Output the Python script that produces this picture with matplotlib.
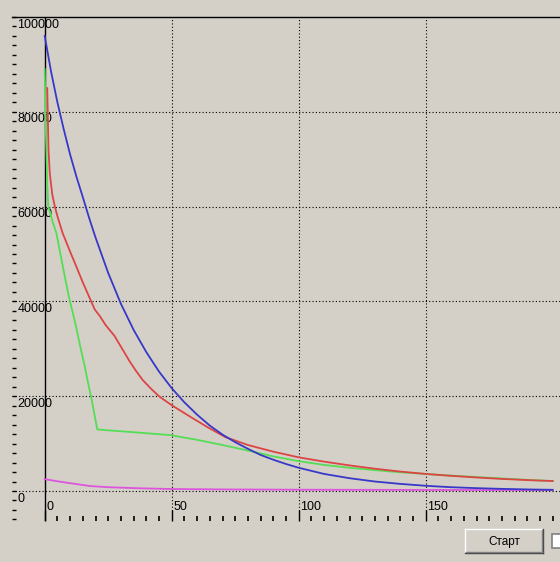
import matplotlib
matplotlib.use("Agg")
import matplotlib.pyplot as plt
import numpy as np
from matplotlib.patches import Rectangle
from matplotlib.lines import Line2D
from matplotlib.ticker import FixedLocator

# ---- data ----
blue_x = [0, 2.5, 5, 7.5, 10, 12.5, 15, 17.5, 20, 25, 30, 35, 40, 45, 50, 55, 60, 65, 70,
          75, 80, 85, 90, 95, 100, 110, 120, 130, 140, 150, 160, 170, 180, 190, 200]
blue_y = [96000, 88500, 82000, 76300, 71000, 66300, 62000, 57600, 53500, 46000, 39500,
          34000, 29300, 25200, 21700, 18700, 16100, 13800, 11900, 10300, 8900, 7600,
          6600, 5700, 4900, 3600, 2700, 2000, 1500, 1100, 800, 600, 450, 330, 250]

red_x = [1, 1.5, 2, 3, 4, 5, 7, 10, 12.5, 15, 18.3, 19.7, 21.7, 24, 27.5, 30.5, 33.5, 36,
         38.6, 42, 45.2, 50, 57.2, 64, 71, 80, 90, 100, 110, 120, 130, 140, 150, 160,
         170, 180, 190, 200]
red_y = [85000, 72000, 67000, 62500, 60000, 58000, 54500, 50500, 47300, 44000, 40000,
         38300, 36900, 35000, 32700, 30000, 27300, 25300, 23400, 21500, 19900, 18100,
         15700, 13500, 11400, 9700, 8300, 7100, 6200, 5400, 4700, 4100, 3600, 3200,
         2850, 2550, 2300, 2100]

green_x = [0, 0.5, 1, 1.4, 2, 3, 4.6, 6, 8, 9.5, 12, 14, 15.8, 17, 18.4, 20.7, 25, 30,
           37.5, 49.3, 60, 70, 82, 90, 100, 110, 120, 130, 140, 150, 160, 170, 180,
           190, 200]
green_y = [89000, 75000, 65000, 60000, 59000, 57000, 54400, 50500, 45000, 41000, 35500,
           30500, 26200, 23000, 19500, 13000, 12800, 12600, 12300, 11800, 10800, 9700,
           8300, 7300, 6300, 5500, 4900, 4400, 3950, 3600, 3250, 2950, 2650, 2350, 2100]

mag_x = [0, 5, 10, 17.8, 25, 37.5, 50, 70, 100, 150, 200]
mag_y = [2500, 2050, 1650, 1050, 800, 570, 420, 330, 270, 220, 190]

x_ticks = [0, 50, 100, 150]
x_tick_labels = ["0", "50", "100", "150"]
y_ticks = [0, 20000, 40000, 60000, 80000, 100000]
y_tick_labels = ["0", "20000", "40000", "60000", "80000", "100000"]
button_label = "Старт"

# ---- styling ----
BG = "#D4D0C8"
W, H = 560, 562
fig = plt.figure(figsize=(W / 100, H / 100), dpi=100, facecolor=BG)

left_px, right_px, top_px, bot_px = 12, 560, 17, 521
ax = fig.add_axes([left_px / W, 1 - bot_px / H, (right_px - left_px) / W,
                   (bot_px - top_px) / H])
ax.set_facecolor(BG)

# pixel -> data mapping used for limits
x0_px, xs = 44.7, 2.54
y0_px, ys = 491.0, 0.00474
ax.set_xlim((left_px - x0_px) / xs, (right_px - x0_px) / xs)
ax.set_ylim((y0_px - bot_px) / ys, (y0_px - top_px) / ys)

for s in ["left", "right", "bottom"]:
    ax.spines[s].set_visible(False)
ax.spines["top"].set_color("black")
ax.spines["top"].set_linewidth(1.0)

# grid
for yv in y_ticks[:-1]:
    ax.axhline(yv, color="black", lw=0.8, ls=(0, (1, 2)), zorder=1)
ybot_grid = (y0_px - 514) / ys
for xv in x_ticks[1:]:
    ax.vlines(xv, ybot_grid, y_ticks[-1], color="black", lw=0.8, ls=(0, (1, 2)), zorder=1)
ax.axvline(0, color="black", lw=1.0, zorder=2)

# ticks
ax.xaxis.set_major_locator(FixedLocator(x_ticks))
ax.xaxis.set_minor_locator(FixedLocator(list(np.arange(0, 201, 5))))
ax.tick_params(axis="x", which="major", direction="in", length=8, width=1,
               color="black", labelbottom=False)
ax.tick_params(axis="x", which="minor", direction="in", length=3.5, width=1.2,
               color="black")
ax.yaxis.set_major_locator(FixedLocator(y_ticks))
ax.yaxis.set_minor_locator(FixedLocator(list(np.arange(-6000, 100001, 2000))))
ax.tick_params(axis="y", which="both", direction="in", length=3.2, width=1.0,
               color="black", labelleft=False, pad=0)

font = dict(family=["Liberation Sans", "DejaVu Sans"], size=9, color="black")

# y labels (opaque, covering grid only)
ylab_x = (17.5 - x0_px) / xs
for yv, lab in zip(y_ticks, y_tick_labels):
    ax.text(ylab_x, yv - 1.5 / ys, lab, ha="left", va="top", zorder=1.5,
            bbox=dict(facecolor=BG, edgecolor="none", pad=0.3), **font)
# x labels
xlab_y = (y0_px - 501) / ys
for xv, lab in zip(x_ticks, x_tick_labels):
    ax.text(xv + 0.6, xlab_y, lab, ha="left", va="top", zorder=1.5, **font)

# series
lw = 1.3
ax.plot(mag_x, mag_y, color="#DD55DD", lw=lw, zorder=3)
ax.plot(green_x, green_y, color="#55DD55", lw=lw, zorder=3)
ax.plot(red_x, red_y, color="#DD4444", lw=lw, zorder=3)
ax.plot(blue_x, blue_y, color="#3838C8", lw=lw, zorder=4)

# button
def px_rect(x, y, w, h, **kw):
    return Rectangle((x / W, 1 - (y + h) / H), w / W, h / H,
                     transform=fig.transFigure, **kw)

bx, by, bw, bh = 465, 529, 78, 24
fig.add_artist(px_rect(bx, by, bw, bh, facecolor=BG, edgecolor="none"))
def px_line(xa, ya, xb, yb, c, lw=1.0):
    fig.add_artist(Line2D([xa / W, xb / W], [1 - ya / H, 1 - yb / H],
                          transform=fig.transFigure, color=c, lw=lw))
px_line(bx, by, bx + bw, by, "white")
px_line(bx, by, bx, by + bh, "white")
px_line(bx, by + bh, bx + bw, by + bh, "#404040")
px_line(bx + bw, by, bx + bw, by + bh, "#404040")
px_line(bx + 1, by + bh - 1, bx + bw - 1, by + bh - 1, "#808080")
px_line(bx + bw - 1, by + 1, bx + bw - 1, by + bh - 1, "#808080")
fig.text((bx + bw / 2) / W, 1 - (by + bh / 2 + 1) / H, button_label,
         ha="center", va="center", family=["Liberation Sans", "DejaVu Sans"],
         size=8.5, color="black")

# checkbox (partly cut)
fig.add_artist(px_rect(552, 534, 14, 14, facecolor="white", edgecolor="#808080", lw=1.2))

fig.savefig("out.png", dpi=100, facecolor=BG)
